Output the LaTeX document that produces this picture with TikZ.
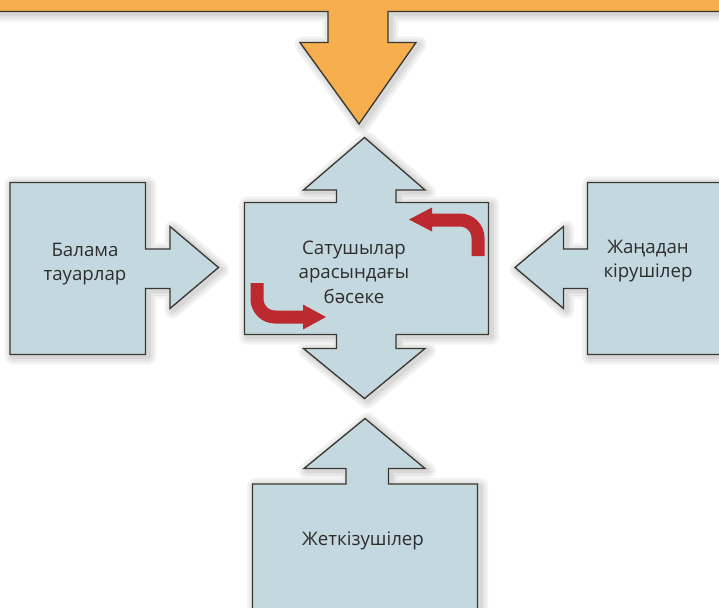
\documentclass[tikz,border=0pt]{standalone}
\usepackage{fontspec}
\setmainfont{Open Sans}
\usepackage{tikz}
\usepackage{xcolor}
\usetikzlibrary{positioning}

\definecolor{boxblue}{HTML}{C4D8DF}
\definecolor{boxline}{HTML}{3A3831}
\definecolor{barorange}{HTML}{F6AE4F}
\definecolor{turnred}{HTML}{BC2A30}
\definecolor{txtgray}{HTML}{2E2E2E}

\tikzset{
  softshadow/.style={
    preaction={draw=black, draw opacity=0.05, line width=12pt, line join=round, transform canvas={xshift=2pt, yshift=-1.5pt}},
    preaction={draw=black, draw opacity=0.05, line width=8pt, line join=round, transform canvas={xshift=2pt, yshift=-1.5pt}},
    preaction={draw=black, draw opacity=0.06, line width=4pt, line join=round, transform canvas={xshift=2pt, yshift=-1.5pt}}
  },
  force/.style={fill=boxblue, draw=boxline, line width=1pt, softshadow},
  lbl/.style={text=txtgray, align=center, font=\fontsize{14}{18.5}\selectfont},
  turn/.style={draw=turnred, line width=9.75pt, rounded corners=13.5pt},
  turnhead/.style={fill=turnred}
}

\begin{document}
\begin{tikzpicture}[x=0.75pt, y=-0.75pt]
  \useasboundingbox (0,0) rectangle (719,608);
  \clip (0,0) rectangle (719,608);

  % Top bar and arrow
  \filldraw[fill=barorange, draw=boxline, line width=1pt, softshadow]
    (-5,-5) -- (-5,11.5) -- (328,11.5) -- (328,42.5) -- (300,42.5) -- (359,124)
    -- (416,42.5) -- (388,42.5) -- (388,11.5) -- (725,11.5) -- (725,-5) -- cycle;

  % Centre box with two arrows
  \filldraw[force] (244.5,202.5) -- (336.5,202.5) -- (336.5,190) -- (303.5,190)
    -- (364.5,137.5) -- (425,190) -- (396,190) -- (396,202.5) -- (488.5,202.5)
    -- (488.5,334.5) -- (396,334.5) -- (396,348.5) -- (425,348.5) -- (364.5,398.5)
    -- (303.5,348.5) -- (336.5,348.5) -- (336.5,334.5) -- (244.5,334.5) -- cycle;

  % Left box
  \filldraw[force] (10,182.5) -- (145.5,182.5) -- (145.5,249) -- (170,249)
    -- (170,226.5) -- (218.5,267.5) -- (170,308.5) -- (170,288.5) -- (145.5,288.5)
    -- (145.5,354.5) -- (10,354.5) -- cycle;

  % Right box
  \filldraw[force] (730,182.5) -- (587.5,182.5) -- (587.5,249) -- (563.5,249)
    -- (563.5,226.5) -- (515,267.5) -- (563.5,308.5) -- (563.5,288.5) -- (587.5,288.5)
    -- (587.5,354.5) -- (730,354.5) -- cycle;

  % Bottom box
  \filldraw[force] (252.5,620) -- (252.5,484) -- (346,484) -- (346,468.5) -- (304,468.5)
    -- (365,418.5) -- (425,468.5) -- (388.5,468.5) -- (388.5,484) -- (477.5,484)
    -- (477.5,620) -- cycle;

  % Labels
  \node[lbl] (rivalry) at (354,272) {Сатушылар\\арасындағы\\бәсеке};
  \node[lbl] (substitutes) at (85,264) {Балама\\тауарлар};
  \node[lbl] (entrants) at (648,261) {Жаңадан\\кірушілер};
  \node[lbl] (suppliers) at (363,541) {Жеткізушілер};

  % Red turning arrows
  \draw[turn] (478,256) -- (478,220) -- (430,220);
  \fill[turnhead] (432,207.5) -- (409,219.5) -- (432,231.5) -- cycle;
  \draw[turn] (257,283) -- (257,317) -- (305,317);
  \fill[turnhead] (303,304.5) -- (326,317) -- (303,329.5) -- cycle;
\end{tikzpicture}
\end{document}
